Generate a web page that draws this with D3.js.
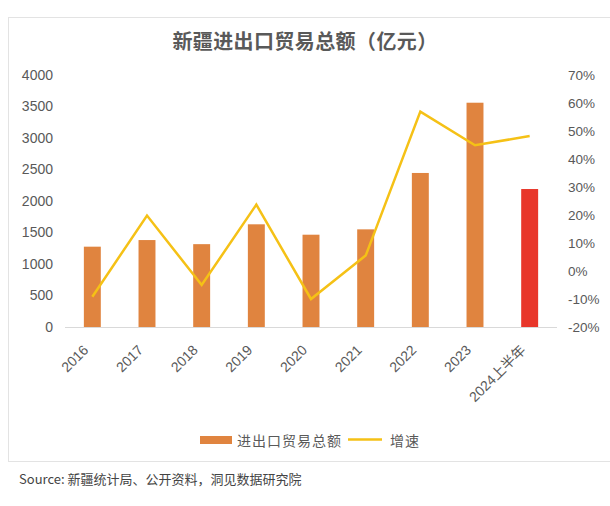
<!DOCTYPE html>
<html><head><meta charset="utf-8">
<script src="https://cdn.jsdelivr.net/npm/d3@7"></script>
<style>
body{margin:0;background:#fff;font-family:"Noto Sans CJK SC","Noto Sans",sans-serif;}
</style></head><body>
<svg id="c" width="610" height="506"></svg>
<script>
const categories = ["2016","2017","2018","2019","2020","2021","2022","2023","2024上半年"];
const tradeTotal = [1275, 1380, 1315, 1630, 1465, 1550, 2445, 3560, 2190];
const growthRate = [-9.2, 19.8, -5.0, 23.7, -10.0, 5.5, 56.9, 44.9, 48.2];
const leftTicks = [0,500,1000,1500,2000,2500,3000,3500,4000];
const rightTicks = [-20,-10,0,10,20,30,40,50,60,70];
const title = "新疆进出口贸易总额（亿元）";
const legendLabels = ["进出口贸易总额","增速"];
const sourceText = "Source: 新疆统计局、公开资料，洞见数据研究院";

const svg = d3.select("#c");
const m = {l:65, r:557, t:75, b:327};
const textCol = "#595959";

// card
svg.append("rect").attr("x",8.5).attr("y",17.5).attr("width",620).attr("height",444)
  .attr("fill","#fff").attr("stroke","#e3e3e3").attr("stroke-width",1);

const x = d3.scaleBand().domain(categories).range([m.l,m.r]).paddingInner(0.69).paddingOuter(0.345);
const yL = d3.scaleLinear().domain([0,4000]).range([m.b,m.t]);
const yR = d3.scaleLinear().domain([-20,70]).range([m.b,m.t]);

svg.append("text").attr("x",305).attr("y",49).attr("text-anchor","middle")
  .attr("font-size",20).attr("letter-spacing",0.4).attr("font-weight","bold").attr("fill",textCol).text(title);

// left axis
const gL = svg.append("g").attr("transform",`translate(${m.l},0)`)
  .call(d3.axisLeft(yL).tickValues(leftTicks).tickSize(0).tickPadding(12).tickFormat(d3.format("d")));
gL.select(".domain").remove();
gL.selectAll("text").attr("font-size",14).attr("fill",textCol).attr("font-family","Liberation Sans, Arial, sans-serif");

// right axis
const gR = svg.append("g").attr("transform",`translate(${m.r},0)`)
  .call(d3.axisRight(yR).tickValues(rightTicks).tickSize(0).tickPadding(11).tickFormat(d=>d+"%"));
gR.select(".domain").remove();
gR.selectAll("text").attr("font-size",13.5).attr("fill",textCol).attr("font-family","Liberation Sans, Arial, sans-serif");

// bars
svg.append("g").selectAll("rect").data(categories).join("rect")
  .attr("x",d=>x(d)).attr("width",x.bandwidth())
  .attr("y",(d,i)=>yL(tradeTotal[i])).attr("height",(d,i)=>yL(0)-yL(tradeTotal[i]))
  .attr("fill",(d,i)=> i===categories.length-1 ? "#E8362A" : "#E0843F");

// baseline
svg.append("line").attr("x1",m.l).attr("x2",m.r).attr("y1",yL(0)+0.5).attr("y2",yL(0)+0.5)
  .attr("stroke","#d9d9d9").attr("stroke-width",1);

// x axis labels
const gX = svg.append("g").attr("transform",`translate(0,${m.b})`)
  .call(d3.axisBottom(x).tickSize(0).tickPadding(0));
gX.select(".domain").remove();
gX.selectAll("text").attr("font-size",14).attr("fill",textCol)
  .attr("font-family","Liberation Sans, Arial, 'Noto Sans CJK SC', sans-serif")
  .attr("text-anchor","end").attr("dy",0)
  .attr("transform","translate(-3,24) rotate(-45)");

// line
const line = d3.line().x((d,i)=>x(categories[i])+x.bandwidth()/2).y(d=>yR(d));
svg.append("path").datum(growthRate).attr("d",line).attr("fill","none")
  .attr("stroke","#F5C116").attr("stroke-width",2.5).attr("stroke-linejoin","miter");

// legend
const lg = svg.append("g");
lg.append("rect").attr("x",200).attr("y",436).attr("width",32).attr("height",8).attr("fill","#E0843F");
lg.append("text").attr("x",237).attr("y",446).attr("font-size",14).attr("letter-spacing",1).attr("fill",textCol).text(legendLabels[0]);
lg.append("line").attr("x1",348).attr("x2",382).attr("y1",439.5).attr("y2",439.5).attr("stroke","#F5C116").attr("stroke-width",2.5);
lg.append("text").attr("x",390).attr("y",446).attr("font-size",14).attr("letter-spacing",1).attr("fill",textCol).text(legendLabels[1]);

svg.append("text").attr("x",19).attr("y",484).attr("font-size",13).attr("fill","#444").text(sourceText);
</script></body></html>
